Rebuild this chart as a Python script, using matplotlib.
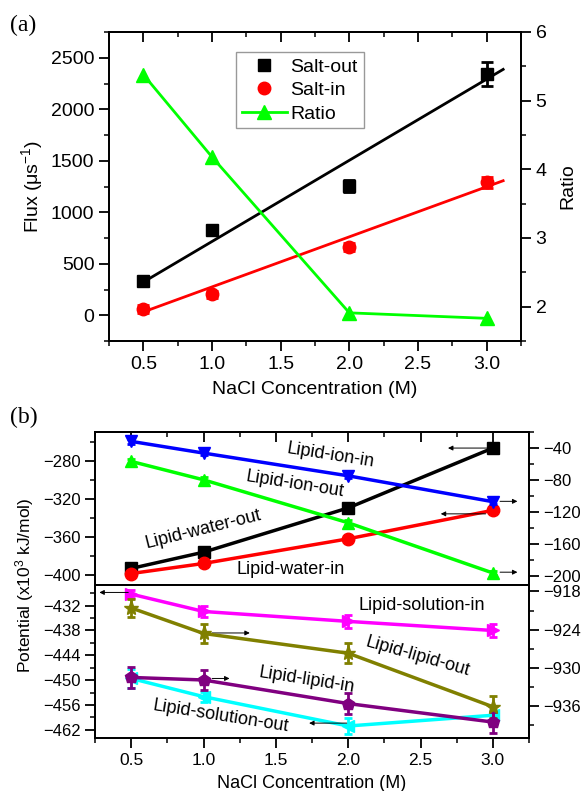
import numpy as np
import matplotlib.pyplot as plt
from matplotlib.lines import Line2D
from matplotlib.ticker import MultipleLocator, FormatStrFormatter

plt.rcParams.update({'font.family': ['Liberation Sans', 'DejaVu Sans'],
                     'axes.linewidth': 1.3,
                     'xtick.major.width': 1.3, 'ytick.major.width': 1.3,
                     'xtick.minor.width': 1.1, 'ytick.minor.width': 1.1})

conc = [0.5, 1.0, 2.0, 3.0]

#### panel (a) data
salt_out = [328, 828, 1252, 2340]
salt_out_err = [35, 40, 60, 115]
salt_in = [61, 203, 661, 1290]
salt_in_err = [40, 35, 40, 55]
ratio = [5.38, 4.18, 1.91, 1.83]
fit_x = [0.5, 3.12]
fit_out = [322, 2387]
fit_in = [32, 1306]

#### panel (b) upper data (left: water, right: ion)
water_out = [-392.7, -375.7, -329.4, -266.8]
water_in = [-398.0, -387.5, -361.7, -331.9]
ion_in = [-31.7, -46.3, -74.7, -107.0]
ion_out = [-56.7, -79.7, -133.3, -196.0]
small_err = [3, 3, 3, 3]

#### panel (b) lower data (left: solution, right: lipid)
sol_in = [-429.2, -433.4, -435.8, -438.0]
sol_in_err = [1.0, 1.4, 1.5, 1.5]
sol_out = [-449.6, -454.0, -461.1, -458.5]
sol_out_err = [2.2, 1.2, 1.9, 1.0]
lip_out = [-920.6, -924.6, -927.7, -936.1]
lip_out_err = [1.45, 1.5, 1.6, 1.7]
lip_in = [-931.5, -931.9, -935.6, -938.5]
lip_in_err = [1.6, 1.5, 1.6, 1.65]

W, H = 588, 791
def box(l, r, t, b):
  return [l/W, (H-b)/H, (r-l)/W, (b-t)/H]

def style_x(ax, labels=True, fs=12):
  ax.set_xlim(0.25, 3.25)
  ax.xaxis.set_major_locator(MultipleLocator(0.5))
  ax.xaxis.set_minor_locator(MultipleLocator(0.25))
  ax.xaxis.set_major_formatter(FormatStrFormatter('%.1f'))
  ax.tick_params(axis='x', which='both', direction='out', top=False, labelbottom=labels, labelsize=fs)
  ax.tick_params(axis='x', which='major', length=7)
  ax.tick_params(axis='x', which='minor', length=3.5)

def style_y(ax, major, minor, fs=12):
  ax.yaxis.set_major_locator(MultipleLocator(major))
  ax.yaxis.set_minor_locator(MultipleLocator(minor))
  ax.tick_params(axis='y', which='both', direction='out', labelsize=fs)
  ax.tick_params(axis='y', which='major', length=7)
  ax.tick_params(axis='y', which='minor', length=3.5)

def top_ticks(ax):
  sec = ax.secondary_xaxis('top')
  sec.xaxis.set_major_locator(MultipleLocator(0.5))
  sec.xaxis.set_minor_locator(MultipleLocator(0.25))
  sec.tick_params(which='both', direction='in', labeltop=False)
  sec.tick_params(which='major', length=7, width=1.3)
  sec.tick_params(which='minor', length=3.5, width=1.1)

def arrow(ax, x0, x1, y):
  ax.annotate('', xy=(x1, y), xytext=(x0, y),
              arrowprops=dict(arrowstyle='-|>', color='k', lw=0.7,
                              mutation_scale=7, shrinkA=0, shrinkB=0),
              zorder=20)

fig = plt.figure(figsize=(W/100, H/100), dpi=100)

#### (a)
axa = fig.add_axes(box(109, 521, 32, 341))
axa2 = axa.twinx()
axa.plot(fit_x, fit_out, color='k', lw=2, zorder=2)
axa.plot(fit_x, fit_in, color='red', lw=2, zorder=2)
axa.errorbar(conc, salt_out, yerr=salt_out_err, fmt='s', color='k', ms=8,
             capsize=4, capthick=2, elinewidth=2, zorder=3)
axa.errorbar(conc, salt_in, yerr=salt_in_err, fmt='o', color='red', ms=9,
             capsize=4, capthick=2, elinewidth=2, zorder=3)
axa2.plot(conc, ratio, color='#00ff00', lw=2, marker='^', ms=10)
axa.set_ylim(-250, 2750)
axa2.set_ylim(1.5, 6)
style_x(axa, fs=14)
style_y(axa, 500, 250, fs=14)
style_y(axa2, 1, 0.5, fs=14)
top_ticks(axa)
axa.set_xlabel('NaCl Concentration (M)', fontsize=14, labelpad=6)
axa.set_ylabel(r'Flux ($\mathregular{\mu s^{-1}}$)', fontsize=14)
axa2.set_ylabel('Ratio', fontsize=14, labelpad=9)
handles = [Line2D([], [], marker='s', ls='none', color='k', ms=8),
           Line2D([], [], marker='o', ls='none', color='red', ms=9),
           Line2D([], [], marker='^', color='#00ff00', lw=2, ms=10)]
leg = axa.legend(handles, ['Salt-out', 'Salt-in', 'Ratio'], loc='upper left',
                 bbox_to_anchor=(0.285, 0.966), fontsize=14, fancybox=False,
                 framealpha=1, edgecolor='0.6', handlelength=2.3,
                 handletextpad=0.2, borderpad=0.3, labelspacing=0.3)
fig.text(10/W, 1-25/H, '(a)', family='Liberation Serif', fontsize=17, va='center')

#### (b) upper
axu = fig.add_axes(box(95, 529, 432, 585))
axu2 = axu.twinx()
kw = dict(capsize=3, capthick=2, elinewidth=2, lw=2.5, ms=9)
axu.errorbar(conc, water_out, yerr=small_err, fmt='-s', color='k', **kw)
axu.errorbar(conc, water_in, yerr=small_err, fmt='-o', color='red', **kw)
axu2.errorbar(conc, ion_in, yerr=small_err, fmt='-v', color='blue', **kw)
axu2.errorbar(conc, ion_out, yerr=small_err, fmt='-^', color='#00ff00', **kw)
axu.set_ylim(-410, -250)
axu2.set_ylim(-211, -20)
style_x(axu, labels=False)
style_y(axu, 40, 20)
style_y(axu2, 40, 20)
top_ticks(axu)
arrow(axu, 2.97, 2.69, -266.8)
arrow(axu, 2.95, 2.64, -335.6)
arrow(axu, 3.05, 3.17, -322.5)
arrow(axu, 3.05, 3.17, -396.6)
axu.text(1.88, -274.5, 'Lipid-ion-in', fontsize=13, rotation=-9, ha='center', va='center')
axu.text(1.63, -305, 'Lipid-ion-out', fontsize=13, rotation=-9, ha='center', va='center')
axu.text(1.0, -352, 'Lipid-water-out', fontsize=13, rotation=14, ha='center', va='center')
axu.text(1.6, -393.8, 'Lipid-water-in', fontsize=13, ha='center', va='center')
fig.text(10/W, 1-417/H, '(b)', family='Liberation Serif', fontsize=17, va='center')

#### (b) lower
axl = fig.add_axes(box(95, 529, 585, 738))
axl2 = axl.twinx()
axl.errorbar(conc, sol_in, yerr=sol_in_err, fmt='->', color='magenta', **kw)
axl.errorbar(conc, sol_out, yerr=sol_out_err, fmt='-<', color='cyan', **kw)
axl2.errorbar(conc, lip_out, yerr=lip_out_err, fmt='-*', color='#808000', **dict(kw, ms=11))
axl2.errorbar(conc, lip_in, yerr=lip_in_err, fmt='-p', color='purple', **kw)
axl.set_ylim(-464, -427)
axl2.set_ylim(-941, -917)
style_x(axl, fs=12.5)
style_y(axl, 6, 3)
style_y(axl2, 6, 3)
arrow(axl, 0.48, 0.28, -428.8)
arrow(axl, 1.06, 1.32, -438.6)
arrow(axl, 1.06, 1.18, -449.6)
arrow(axl, 1.99, 1.73, -460.4)
axl.text(2.51, -432, 'Lipid-solution-in', fontsize=13, ha='center', va='center')
axl.text(2.48, -444.4, 'Lipid-lipid-out', fontsize=13, rotation=-16, ha='center', va='center')
axl.text(1.71, -450, 'Lipid-lipid-in', fontsize=13, rotation=-9, ha='center', va='center')
axl.text(1.12, -458.8, 'Lipid-solution-out', fontsize=13, rotation=-9, ha='center', va='center')
axl.set_xlabel('NaCl Concentration (M)', fontsize=13, labelpad=5)
fig.text(25/W, 1-585/H, r'Potential (x10$\mathregular{^3}$ kJ/mol)', fontsize=12.5,
         rotation=90, ha='center', va='center')

plt.savefig('out.png', dpi=100)
